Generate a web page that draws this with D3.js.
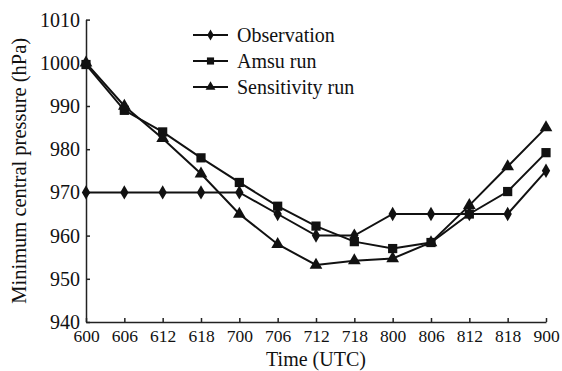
<!DOCTYPE html>
<html lang="en">
<head>
    <meta charset="UTF-8">
    <title>Minimum central pressure</title>
    <style>
        body { margin: 0; background: #fff; }
        text { font-family: "Liberation Serif", "Times New Roman", serif; fill: #111; }
        .axis path, .axis line { stroke: #222; stroke-width: 1.5px; }
    </style>
</head>
<body>
    <div id="chart"></div>
    <script src="https://d3js.org/d3.v7.min.js"></script>
    <script>
        const times = ["600", "606", "612", "618", "700", "706", "712", "718", "800", "806", "812", "818", "900"];
        const observation = [970, 970, 970, 970, 970, 965, 960, 960, 965, 965, 965, 965, 975];
        const amsuRun = [999.6, 989, 984, 978, 972.3, 966.8, 962.2, 958.6, 957, 958.4, 965, 970.2, 979.2];
        const sensitivityRun = [1000, 990, 982.5, 974.3, 965, 958, 953.2, 954.2, 954.7, 958.4, 967, 976, 985];
        const yTicks = [940, 950, 960, 970, 980, 990, 1000, 1010];

        const width = 562;
        const height = 371;
        const margin = { left: 86, right: 16, top: 19.6, bottom: 49 };

        const svg = d3.select("#chart")
            .append("svg")
            .attr("width", width)
            .attr("height", height);

        const x = d3.scalePoint()
            .domain(times)
            .range([margin.left, width - margin.right]);

        const y = d3.scaleLinear()
            .domain([940, 1010])
            .range([height - margin.bottom, margin.top]);

        // axes, ticks point inward
        const xAxis = svg.append("g")
            .attr("class", "axis")
            .attr("transform", `translate(0,${height - margin.bottom})`)
            .call(d3.axisBottom(x).tickSizeInner(-4).tickSizeOuter(0).tickPadding(8));
        xAxis.selectAll("text").style("font-size", "17.5px").attr("dy", "0.71em");

        const yAxis = svg.append("g")
            .attr("class", "axis")
            .attr("transform", `translate(${margin.left},0)`)
            .call(d3.axisLeft(y).tickValues(yTicks).tickFormat(d3.format("d")).tickSizeInner(-4).tickSizeOuter(0).tickPadding(6));
        yAxis.selectAll("text").style("font-size", "20px");

        svg.append("text")
            .attr("transform", `translate(26,${(margin.top + height - margin.bottom) / 2}) rotate(-90)`)
            .attr("text-anchor", "middle")
            .style("font-size", "20.5px")
            .text("Minimum central pressure (hPa)");

        svg.append("text")
            .attr("x", 316)
            .attr("y", 366)
            .attr("text-anchor", "middle")
            .style("font-size", "20px")
            .text("Time (UTC)");

        const series = [
            { name: "Observation", values: observation, symbol: d3.symbolDiamond, size: 60 },
            { name: "Amsu run", values: amsuRun, symbol: d3.symbolSquare, size: 85 },
            { name: "Sensitivity run", values: sensitivityRun, symbol: d3.symbolTriangle, size: 70 }
        ];

        const line = d3.line()
            .x((d, i) => x(times[i]))
            .y(d => y(d));

        series.forEach(s => {
            svg.append("path")
                .datum(s.values)
                .attr("fill", "none")
                .attr("stroke", "#111")
                .attr("stroke-width", 2)
                .attr("d", line);

            svg.selectAll(null)
                .data(s.values)
                .enter().append("path")
                .attr("transform", (d, i) => `translate(${x(times[i])},${y(d)})`)
                .attr("d", d3.symbol().type(s.symbol).size(s.size))
                .attr("fill", "#111");
        });

        // legend
        const legend = svg.append("g").attr("transform", "translate(193,35)");
        series.forEach((s, i) => {
            const row = legend.append("g").attr("transform", `translate(0,${i * 26})`);
            row.append("line")
                .attr("x1", 0).attr("x2", 35)
                .attr("stroke", "#111").attr("stroke-width", 2);
            row.append("path")
                .attr("transform", "translate(17.5,0)")
                .attr("d", d3.symbol().type(s.symbol).size(s.size * 0.6))
                .attr("fill", "#111");
            row.append("text")
                .attr("x", 44)
                .attr("dy", "0.35em")
                .style("font-size", "20px")
                .text(s.name);
        });
    </script>
</body>
</html>
